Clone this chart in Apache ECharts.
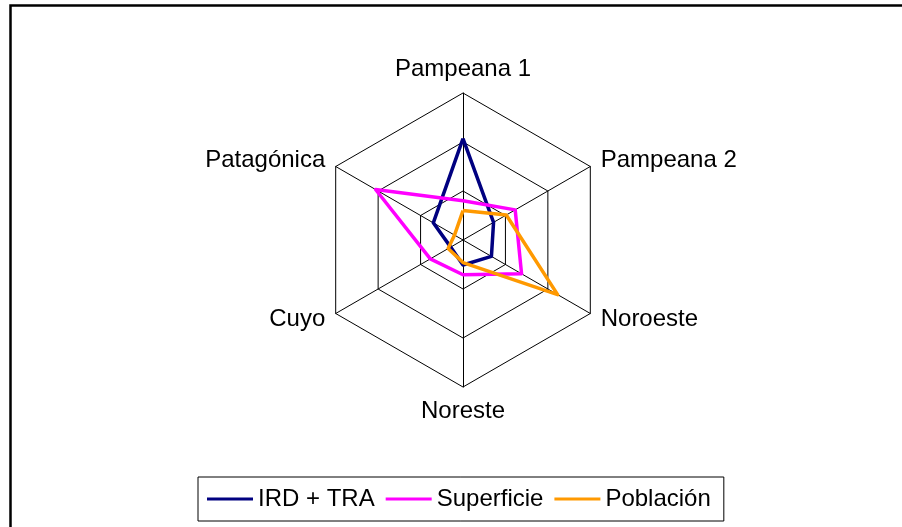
<!DOCTYPE html>
<html>
<head>
<meta charset="utf-8">
<script src="https://cdn.jsdelivr.net/npm/echarts@6/dist/echarts.min.js"></script>
<style>
  html, body { margin: 0; padding: 0; background: #fff; }
  #chart { width: 902px; height: 527px; }
</style>
</head>
<body>
<div id="chart"></div>
<script>
  // indicators go counterclockwise from the top
  const categories = ['Pampeana 1', 'Patagónica', 'Cuyo', 'Noreste', 'Noroeste', 'Pampeana 2']
  const irdTra = [2.07, 0.70, 0.29, 0.51, 0.67, 0.72]
  const superficie = [0.80, 2.06, 0.77, 0.71, 1.38, 1.23]
  const poblacion = [0.60, 0.20, 0.35, 0.46, 2.23, 1.02]
  const axisMax = 3

  const font = 'Liberation Sans, Arial, sans-serif'

  const chart = echarts.init(document.getElementById('chart'))

  function lineSeries(name, values, color) {
    return {
      name: name,
      value: values,
      symbol: 'none',
      lineStyle: { color: color, width: 3.5 },
      itemStyle: { color: color }
    }
  }

  chart.setOption({
    animation: false,
    backgroundColor: '#fff',
    graphic: [{
      type: 'polyline',
      shape: { points: [[10.5, 527], [10.5, 5.5], [902, 5.5]] },
      style: { stroke: '#000', lineWidth: 2.5, fill: null }
    }],
    legend: {
      left: 198,
      top: 477,
      orient: 'horizontal',
      padding: [10, 13, 10, 9],
      itemGap: 11,
      itemWidth: 46,
      itemHeight: 3,
      icon: 'rect',
      borderColor: '#000',
      borderWidth: 1,
      textStyle: { fontSize: 24, color: '#000', fontFamily: font },
      data: ['IRD + TRA', 'Superficie', 'Población']
    },
    radar: {
      center: [463, 240],
      radius: 147,
      shape: 'polygon',
      splitNumber: 3,
      startAngle: 90,
      indicator: categories.map(c => ({ name: c, max: axisMax, min: 0 })),
      axisName: { color: '#000', fontSize: 24, fontFamily: font },
      nameGap: 12,
      axisLine: { lineStyle: { color: '#000', width: 1 } },
      splitLine: { lineStyle: { color: '#000', width: 1 } },
      splitArea: { show: false },
      axisTick: { show: false },
      axisLabel: { show: false }
    },
    series: [{
      type: 'radar',
      symbol: 'none',
      data: [
        lineSeries('IRD + TRA', irdTra, '#000080'),
        lineSeries('Superficie', superficie, '#ff00ff'),
        lineSeries('Población', poblacion, '#ff9900')
      ]
    }]
  })
</script>
</body>
</html>
